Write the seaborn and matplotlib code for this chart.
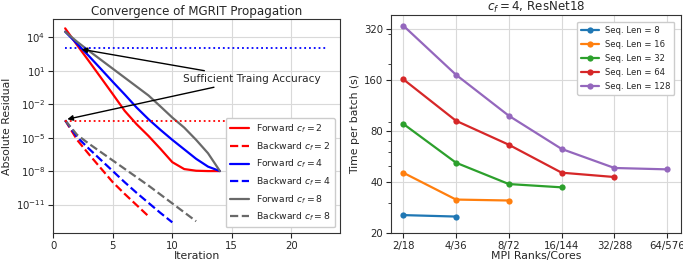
import numpy as np
import pandas as pd
import matplotlib
matplotlib.use("Agg")
import matplotlib.pyplot as plt
import matplotlib.ticker as mticker
import seaborn as sns

# left panel: MGRIT convergence (log10 of residual per iteration)
fwd2 = [4.8, 3.3, 1.85, 0.38, -1.1, -2.6, -3.8, -4.85, -6.0, -7.2, -7.82, -7.97, -8.0, -8.0]
fwd4 = [4.5, 3.42, 2.31, 1.16, 0.0, -1.13, -2.3, -3.35, -4.3, -5.2, -6.05, -6.9, -7.6, -8.0]
fwd8 = [4.5, 3.6, 2.78, 1.98, 1.18, 0.38, -0.42, -1.22, -2.2, -3.2, -4.1, -5.2, -6.4, -8.0]
bwd2 = [-3.45, -5.2, -6.5, -7.75, -9.0, -10.05, -11.05, -12.05]
bwd4 = [-3.45, -4.95, -6.0, -7.0, -8.0, -9.0, -9.95, -10.85, -11.75, -12.6]
bwd8 = [-3.45, -4.75, -5.55, -6.3, -7.05, -7.8, -8.55, -9.3, -10.1, -10.9, -11.7, -12.5]
fwd_tol = 1.2e3
bwd_tol = 3.3e-4
tol_iters = [1, 23]

# right panel: time per batch
configs = ["2/18", "4/36", "8/72", "16/144", "32/288", "64/576"]
seq8 = [25.5, 25.0]
seq16 = [45.4, 31.5, 31.1]
seq32 = [88.3, 52.0, 38.9, 37.2]
seq64 = [162.0, 92.0, 66.4, 45.4, 42.8]
seq128 = [336.0, 172.0, 98.5, 62.7, 48.4, 47.5]

sns.set_style("ticks", {"axes.grid": True, "grid.color": ".85", "axes.edgecolor": ".2"})
plt.rcParams['font.family'] = ['DejaVu Sans']

fig = plt.figure(figsize=(6.83, 2.6), dpi=100)
ax1 = fig.add_axes([0.078, 0.104, 0.420, 0.823])
ax2 = fig.add_axes([0.5725, 0.104, 0.4246, 0.8385])

# ---- left
def it(v):
    return np.arange(1, len(v) + 1)

series = [
    (fwd2, "red", "-", "Forward $c_f = 2$"),
    (bwd2, "red", "--", "Backward $c_f = 2$"),
    (fwd4, "blue", "-", "Forward $c_f = 4$"),
    (bwd4, "blue", "--", "Backward $c_f = 4$"),
    (fwd8, "dimgray", "-", "Forward $c_f = 8$"),
    (bwd8, "dimgray", "--", "Backward $c_f = 8$"),
]
for vals, col, ls, lab in series:
    sns.lineplot(x=it(vals), y=10.0 ** np.array(vals), color=col, linestyle=ls,
                 linewidth=1.6, label=lab, ax=ax1)
sns.lineplot(x=tol_iters, y=[fwd_tol, fwd_tol], color="blue", linestyle=":", linewidth=1.3, ax=ax1)
sns.lineplot(x=tol_iters, y=[bwd_tol, bwd_tol], color="red", linestyle=":", linewidth=1.3, ax=ax1)

ax1.set_yscale("log")
ax1.set_ylim(10 ** -13.55, 10 ** 5.64)
ax1.set_xlim(0, 24.1)
ax1.set_yticks([1e4, 1e1, 1e-2, 1e-5, 1e-8, 1e-11])
ax1.yaxis.set_minor_locator(mticker.NullLocator())
ax1.set_xticks([0, 5, 10, 15, 20])
ax1.tick_params(labelsize=7.3, pad=2)
ax1.set_xlabel("Iteration", fontsize=7.8, labelpad=0)
ax1.set_ylabel("Absolute Residual", fontsize=7.8, labelpad=3)
ax1.set_title("Convergence of MGRIT Propagation", fontsize=8.6, pad=3)

arrow = dict(arrowstyle="-|>", color="black", lw=1, mutation_scale=8, shrinkA=0, shrinkB=0)
ax1.annotate("Sufficient Traing Accuracy", xy=(2.38, 10 ** 2.92), xytext=(10.9, 10 ** 0.26),
             va="center", ha="left", fontsize=7.6, arrowprops=arrow)
ax1.annotate("Sufficient Traing Accuracy", xy=(1.18, 10 ** -3.35), xytext=(10.9, 10 ** 0.26),
             va="center", ha="left", fontsize=7.6, alpha=0, arrowprops=arrow)
ax1.legend(loc="lower right", fontsize=6.7, handlelength=2.1, labelspacing=0.55,
           borderpad=0.45, borderaxespad=0.6, handletextpad=0.7, framealpha=1)

# ---- right
right = [(seq8, "Seq. Len = 8"), (seq16, "Seq. Len = 16"), (seq32, "Seq. Len = 32"),
         (seq64, "Seq. Len = 64"), (seq128, "Seq. Len = 128")]
pal = sns.color_palette("tab10")
for i, (vals, lab) in enumerate(right):
    df = pd.DataFrame({"pos": np.arange(len(vals)), "time": vals})
    sns.lineplot(data=df, x="pos", y="time", marker="o", markersize=4.5, markeredgewidth=0,
                 color=pal[i], linewidth=1.6, label=lab, ax=ax2)

ax2.set_yscale("log")
ax2.set_ylim(20, 388)
ax2.set_xlim(-0.23, 5.26)
ax2.set_yticks([20, 40, 80, 160, 320])
ax2.yaxis.set_major_formatter(mticker.ScalarFormatter())
ax2.yaxis.set_minor_formatter(mticker.NullFormatter())
ax2.set_xticks(range(len(configs)))
ax2.set_xticklabels(configs)
ax2.tick_params(labelsize=7.3, pad=2)
ax2.set_xlabel("MPI Ranks/Cores", fontsize=7.8, labelpad=0)
ax2.set_ylabel("Time per batch (s)", fontsize=7.8, labelpad=3)
ax2.set_title("$c_f = 4$, ResNet18", fontsize=8.6, pad=3)
ax2.legend(loc="upper right", fontsize=6.1, handlelength=2.1, labelspacing=0.6,
           borderpad=0.45, borderaxespad=0.8, handletextpad=0.7, framealpha=1)

fig.savefig("out.png", dpi=100)
